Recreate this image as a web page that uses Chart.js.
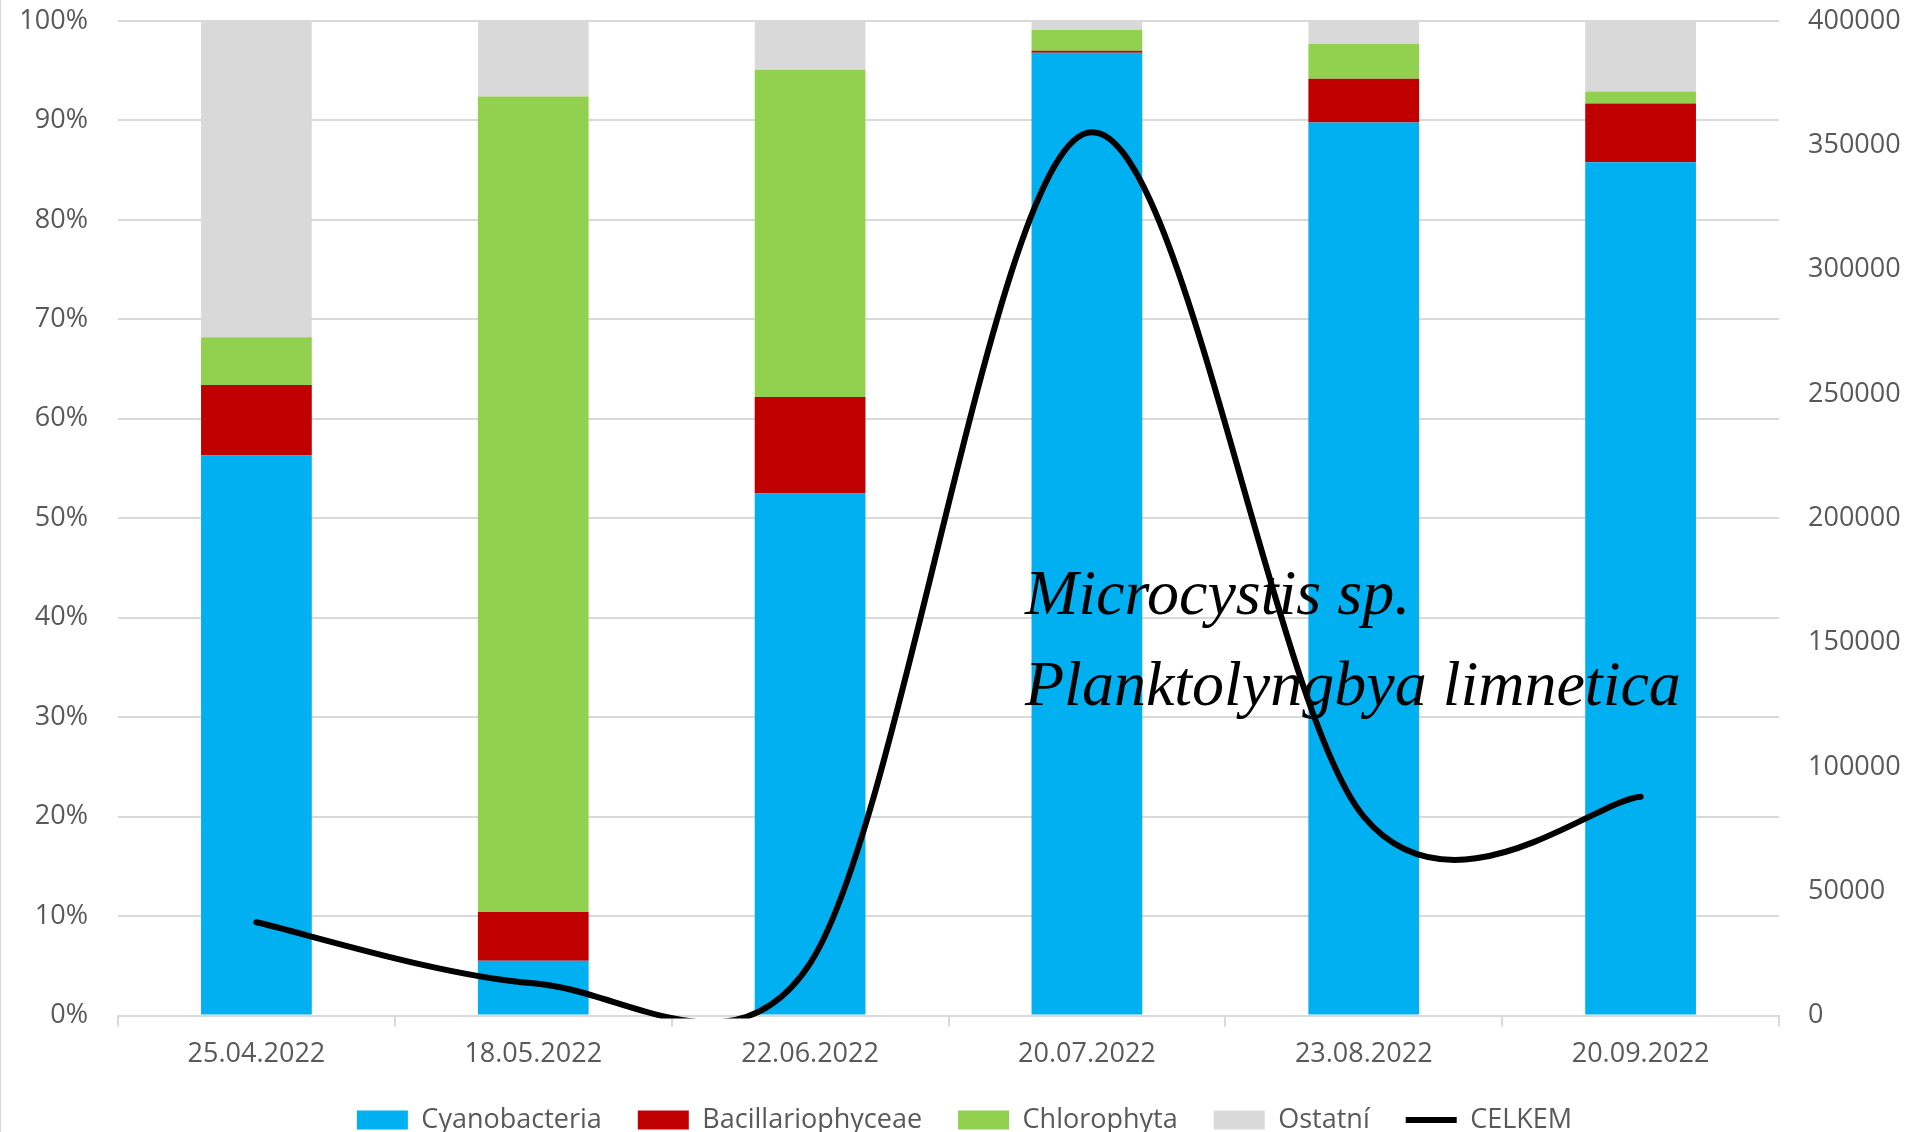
<!DOCTYPE html>
<html>
<head>
<meta charset="utf-8">
<script src="https://cdn.jsdelivr.net/npm/chart.js@4.4.1/dist/chart.umd.min.js"></script>
<style>
  html, body { margin: 0; padding: 0; background: #fff; overflow: hidden; }
  #chart { display: block; }
</style>
</head>
<body>
<canvas id="chart" width="1907" height="1132"></canvas>
<script>
  // Sampling dates
  const categories = ["25.04.2022", "18.05.2022", "22.06.2022", "20.07.2022", "23.08.2022", "20.09.2022"];

  // Share of each group, % of total
  const cyanobacteria = [56.3, 5.5, 52.5, 96.8, 89.8, 85.8];
  const bacillariophyceae = [7.1, 4.9, 9.7, 0.2, 4.4, 5.9];
  const chlorophyta = [4.8, 82.0, 32.9, 2.1, 3.5, 1.2];
  const ostatni = [31.8, 7.6, 4.9, 0.9, 2.3, 7.1];

  // Total count (right axis)
  const celkem = [37500, 13000, 21000, 355000, 80000, 88000];

  const annotationLines = ["Microcystis sp.", "Planktolyngbya limnetica"];

  Chart.defaults.font.family = "'Open Sans', sans-serif";
  Chart.defaults.font.size = 27;
  Chart.defaults.color = "#595959";

  const gridColor = "#d9d9d9";

  // white background + thin frame line on the left
  const backgroundPlugin = {
    id: "background",
    beforeDraw(chart) {
      const ctx = chart.ctx;
      ctx.save();
      ctx.fillStyle = "#fff";
      ctx.fillRect(0, 0, chart.width, chart.height);
      ctx.fillStyle = gridColor;
      ctx.fillRect(0, 0, 1, chart.height);
      ctx.restore();
    },
  };

  // Excel-style smoothing: bezier handles along the neighbour chord,
  // 1/6 of it, but never longer than half the segment
  const excelSmoothPlugin = {
    id: "excelSmooth",
    beforeDatasetsDraw(chart) {
      chart.data.datasets.forEach((ds, idx) => {
        if (ds.type !== "line") return;
        const meta = chart.getDatasetMeta(idx);
        const line = meta.dataset;
        const pts = meta.data;
        line.updateControlPoints(chart.chartArea, "x");
        const dist = (a, b) => Math.hypot(b.x - a.x, b.y - a.y);
        pts.forEach((p) => { p.cp1x = p.x; p.cp1y = p.y; p.cp2x = p.x; p.cp2y = p.y; });
        for (let i = 0; i < pts.length - 1; i++) {
          const p0 = pts[i - 1] || pts[i];
          const p1 = pts[i];
          const p2 = pts[i + 1];
          const p3 = pts[i + 2] || pts[i + 1];
          const d12 = dist(p1, p2);
          const d02 = dist(p0, p2);
          const d13 = dist(p1, p3);
          const f1 = d02 > 0 ? Math.min(1 / 6, d12 / (2 * d02)) : 0;
          const f2 = d13 > 0 ? Math.min(1 / 6, d12 / (2 * d13)) : 0;
          p1.cp2x = p1.x + (p2.x - p0.x) * f1;
          p1.cp2y = p1.y + (p2.y - p0.y) * f1;
          p2.cp1x = p2.x - (p3.x - p1.x) * f2;
          p2.cp1y = p2.y - (p3.y - p1.y) * f2;
        }
        line._path = undefined;
      });
    },
  };

  // species names written over the plot
  const annotationPlugin = {
    id: "speciesNote",
    afterDatasetsDraw(chart) {
      const ctx = chart.ctx;
      ctx.save();
      ctx.font = "italic 64px 'Liberation Serif', 'Times New Roman', serif";
      ctx.fillStyle = "#000";
      ctx.textBaseline = "alphabetic";
      ctx.textAlign = "left";
      ctx.fillText(annotationLines[0], 1025, 614);
      ctx.fillText(annotationLines[1], 1025, 705);
      ctx.restore();
    },
  };

  // vertical axes: no extra room reserved above/below the plot
  function fitVertical(width) {
    return function (scale) {
      scale.width = width;
      scale.paddingTop = 0;
      scale.paddingBottom = 0;
    };
  }

  new Chart(document.getElementById("chart"), {
    type: "bar",
    data: {
      labels: categories,
      datasets: [
        { label: "Cyanobacteria", data: cyanobacteria, backgroundColor: "#00b0f0", order: 1 },
        { label: "Bacillariophyceae", data: bacillariophyceae, backgroundColor: "#c00000", order: 1 },
        { label: "Chlorophyta", data: chlorophyta, backgroundColor: "#92d050", order: 1 },
        { label: "Ostatní", data: ostatni, backgroundColor: "#d9d9d9", order: 1 },
        {
          type: "line",
          label: "CELKEM",
          data: celkem,
          yAxisID: "y1",
          borderColor: "#000",
          backgroundColor: "#000",
          borderWidth: 6,
          borderCapStyle: "round",
          borderJoinStyle: "round",
          tension: 0.4,
          capBezierPoints: false,
          clip: { left: 5, right: 5, top: 5, bottom: 3 },
          pointRadius: 0,
          fill: false,
          order: 0,
        },
      ],
    },
    options: {
      responsive: false,
      animation: false,
      devicePixelRatio: 1,
      layout: { padding: { top: 21, right: 0, bottom: -11.5, left: 22 } },
      datasets: {
        bar: { categoryPercentage: 1, barPercentage: 0.4 },
      },
      plugins: {
        tooltip: { enabled: false },
        legend: {
          position: "bottom",
          labels: {
            usePointStyle: true,
            pointStyleWidth: 51,
            boxHeight: 19,
            padding: 36,
            color: "#595959",
            sort: (a, b) => a.datasetIndex - b.datasetIndex,
            generateLabels(chart) {
              return chart.data.datasets.map((ds, i) => ({
                text: ds.label,
                datasetIndex: i,
                fillStyle: ds.backgroundColor,
                strokeStyle: ds.type === "line" ? ds.borderColor : ds.backgroundColor,
                lineWidth: ds.type === "line" ? 6 : 0,
                pointStyle: ds.type === "line" ? "line" : "rect",
                fontColor: "#595959",
                hidden: false,
              }));
            },
          },
        },
      },
      scales: {
        x: {
          stacked: true,
          offset: true,
          grid: {
            offset: true,
            drawOnChartArea: false,
            color: gridColor,
            lineWidth: 2,
            tickLength: 11,
          },
          border: { color: gridColor, width: 2 },
          ticks: { padding: 12, maxRotation: 0 },
          afterFit(scale) { scale.height = 55; },
        },
        y: {
          stacked: true,
          min: 0,
          max: 100,
          position: "left",
          ticks: { stepSize: 10, padding: 30, callback: (v) => v + "%" },
          grid: { color: gridColor, lineWidth: 2, drawTicks: false },
          border: { display: false },
          afterFit: fitVertical(96),
        },
        y1: {
          min: 0,
          max: 400000,
          position: "right",
          ticks: { stepSize: 50000, padding: 29, callback: (v) => String(v) },
          grid: { display: false, drawTicks: false },
          border: { display: false },
          afterFit: fitVertical(128),
        },
      },
    },
    plugins: [backgroundPlugin, excelSmoothPlugin, annotationPlugin],
  });
</script>
</body>
</html>
